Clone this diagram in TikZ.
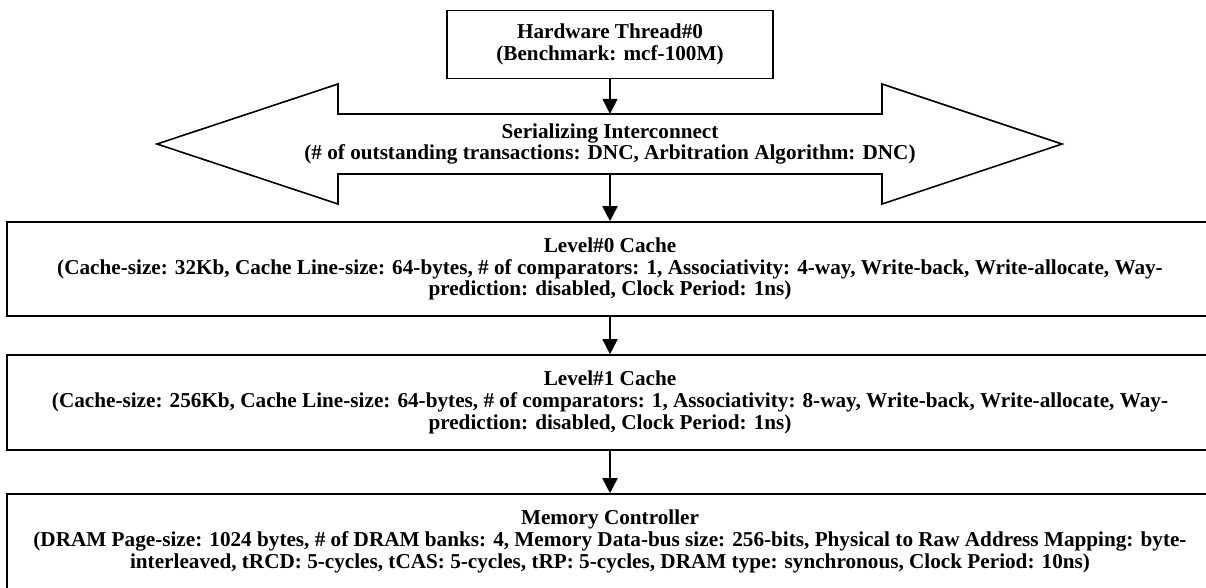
\documentclass[tikz,border=0pt]{standalone}
\usepackage{fontspec}
\setmainfont{Liberation Serif}
\usetikzlibrary{arrows.meta,calc}
\begin{document}
\begin{tikzpicture}[x=1pt,y=-1pt,
  lbl/.style={align=center, inner sep=0pt,
    font=\fontsize{21.2}{21.7}\selectfont\bfseries},
  box/.style={lbl, draw, line width=1.6pt},
  link/.style={line width=1.6pt, -{Triangle[length=15pt,width=15pt]}},
  shapeline/.style={draw, line width=1.6pt, line join=miter}
  ]
\useasboundingbox (0,0) rectangle (1206,587);
\clip (0,0) rectangle (1206,587);

% thread
\node[box, minimum width=326pt, minimum height=68pt] (hw) at (610,44.5)
  {Hardware Thread\#0\\(Benchmark: mcf-100M)};

% interconnect: double-headed block arrow with its label
\node[lbl, minimum width=544pt, minimum height=60pt] (ic) at (610,144)
  {Serializing Interconnect\\(\# of outstanding transactions: DNC, Arbitration Algorithm: DNC)};
\draw[shapeline]
  ($(ic.center)+(-453,0)$) -- ($(ic.center)+(-272,-60)$) -- ($(ic.center)+(-272,-30)$)
  -- ($(ic.center)+(272,-30)$) -- ($(ic.center)+(272,-60)$) -- ($(ic.center)+(452,0)$)
  -- ($(ic.center)+(272,60)$) -- ($(ic.center)+(272,30)$) -- ($(ic.center)+(-272,30)$)
  -- ($(ic.center)+(-272,60)$) -- cycle;

% caches and memory controller
\node[box, minimum width=1206pt, minimum height=94pt] (l0) at (610,269)
  {Level\#0 Cache\\(Cache-size: 32Kb, Cache Line-size: 64-bytes, \# of comparators: 1, Associativity: 4-way, Write-back, Write-allocate, Way-\\prediction: disabled, Clock Period: 1ns)};
\node[box, minimum width=1206pt, minimum height=95pt] (l1) at (610,402.5)
  {Level\#1 Cache\\(Cache-size: 256Kb, Cache Line-size: 64-bytes, \# of comparators: 1, Associativity: 8-way, Write-back, Write-allocate, Way-\\prediction: disabled, Clock Period: 1ns)};
\node[box, minimum width=1206pt, minimum height=95pt] (mem) at (610,541.5)
  {Memory Controller\\(DRAM Page-size: 1024 bytes, \# of DRAM banks: 4, Memory Data-bus size: 256-bits, Physical to Raw Address Mapping: byte-\\interleaved, tRCD: 5-cycles, tCAS: 5-cycles, tRP: 5-cycles, DRAM type: synchronous, Clock Period: 10ns)};

% connectors
\draw[link] (hw.south) -- (hw.south |- ic.north);
\draw[link] (ic.south) -- (l0.north);
\draw[link] (l0.south) -- (l1.north);
\draw[link] (l1.south) -- (mem.north);
\end{tikzpicture}
\end{document}
